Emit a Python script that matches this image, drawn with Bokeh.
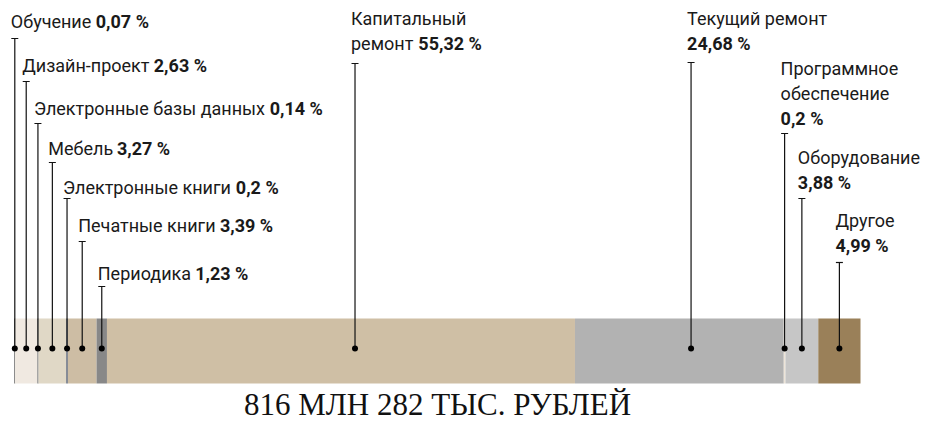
import numpy as np
from bokeh.plotting import figure
from bokeh.models import Range1d
from bokeh.core.properties import value
from bokeh.embed import file_html
from bokeh.resources import INLINE

# ---------------- data ----------------
categories = ["Обучение", "Дизайн-проект", "Электронные базы данных", "Мебель",
              "Электронные книги", "Печатные книги", "Периодика",
              "Капитальный ремонт", "Текущий ремонт", "Программное обеспечение",
              "Оборудование", "Другое"]
shares = [0.07, 2.63, 0.14, 3.27, 0.2, 3.39, 1.23, 55.32, 24.68, 0.2, 3.88, 4.99]
total_text = "816 МЛН 282 ТЫС. РУБЛЕЙ"

# ---------------- style / layout ----------------
colors = ["#1a1a1a", "#f0e9e1", "#7a7a7a", "#e0d8c6", "#6c7383", "#cdbda4",
          "#888888", "#cfbfa5", "#b2b2b2", "#ede4d8", "#c6c6c6", "#9a8059"]
anchor_frac = [0.5, 0.5, 0.5, 0.5, 0.5, 0.5, 0.5, 0.53, 0.556, 0.5, 0.5, 0.5]
label_y = [21, 65, 108, 148, 187, 225, 273, 18, 18, 68, 157, 220]
cap_y = [38, 81, 123, 162, 198, 241, 286, 63, 62, 133, 198, 262]
wrap_words = [False] * 7 + [True, False, True, False, False]
value_inline = [True] * 8 + [False] * 4

FONT = "Roboto"
FS = 18
LINE_H = 25
BAR_TOP, BAR_BOT, DOT_Y = 318, 383, 348
PX_PER_UNIT = 8.46
X0_PX = 14  # px of the bar's left edge
FIG_W, FIG_H = 932, 424

W = {' ': 0.25, ',': 0.2, '.': 0.24, '-': 0.28, 'г': 0.39, 'т': 0.53, 'у': 0.48,
     'к': 0.54, 'з': 0.52, 'с': 0.52, 'ь': 0.52, 'е': 0.53, 'а': 0.53, 'ч': 0.53,
     'л': 0.56, 'б': 0.55, 'и': 0.57, 'й': 0.57, 'н': 0.59, 'п': 0.57, 'р': 0.56,
     'д': 0.58, 'о': 0.57, 'в': 0.54, 'х': 0.5, 'ы': 0.76, 'м': 0.71, 'ш': 0.78,
     'щ': 0.8, 'ж': 0.76, 'ю': 0.75, 'ф': 0.7, 'О': 0.69, 'Д': 0.7, 'Э': 0.68,
     'М': 0.87, 'П': 0.71, 'Т': 0.6, 'К': 0.63, 'Е': 0.57}


def text_w(s):
    return sum(W.get(ch, 0.55) for ch in s) * FS


def fmt(v):
    return f"{v:g}".replace(".", ",") + " %"


sh = np.array(shares)
right = np.cumsum(sh)
left = right - sh
anchor = left + np.array(anchor_frac) * sh

start = -X0_PX / PX_PER_UNIT
p = figure(width=FIG_W, height=FIG_H, output_backend="svg", toolbar_location=None,
           x_range=Range1d(start, start + FIG_W / PX_PER_UNIT),
           y_range=Range1d(FIG_H, 0), min_border=0,
           x_axis_location=None, y_axis_location=None)
p.grid.visible = False
p.outline_line_color = None
p.background_fill_color = "white"

p.quad(left=left, right=right, top=BAR_TOP, bottom=BAR_BOT,
       fill_color=colors, line_color=None)

p.segment(x0=anchor, y0=cap_y, x1=anchor, y1=DOT_Y, line_color="#111111", line_width=1.2)
p.scatter(x=anchor, y=cap_y, marker="dash", size=7, line_color="#111111", line_width=1.2)
p.scatter(x=anchor, y=[DOT_Y] * len(anchor), marker="circle", size=6,
          fill_color="#000000", line_color=None)

nx, ny, nt = [], [], []
bx, by, bt, bo = [], [], [], []
for i, name in enumerate(categories):
    lines = name.split(" ") if wrap_words[i] else [name]
    for k, ln in enumerate(lines):
        nx.append(anchor[i]); ny.append(label_y[i] + k * LINE_H); nt.append(ln)
    if value_inline[i]:
        bx.append(anchor[i]); by.append(label_y[i] + (len(lines) - 1) * LINE_H)
        bo.append(-4 + text_w(lines[-1] + " "))
    else:
        bx.append(anchor[i]); by.append(label_y[i] + len(lines) * LINE_H)
        bo.append(-4)
    bt.append(fmt(shares[i]))

p.text(x=nx, y=ny, text=nt, x_offset=-4, text_align="left", text_baseline="middle",
       text_font=value(FONT), text_font_size=f"{FS}px", text_color="#1a1a1a")
p.text(x=bx, y=by, text=bt, x_offset=bo, text_align="left", text_baseline="middle",
       text_font=value(FONT), text_font_size=f"{FS}px", text_font_style="bold",
       text_color="#1a1a1a")

p.text(x=[right[-1] / 2], y=[404], text=[total_text], text_align="center",
       text_baseline="middle", text_font=value("Liberation Serif"),
       text_font_size="31px", text_color="#111111")

open("out.html", "w").write(file_html(p, INLINE))
